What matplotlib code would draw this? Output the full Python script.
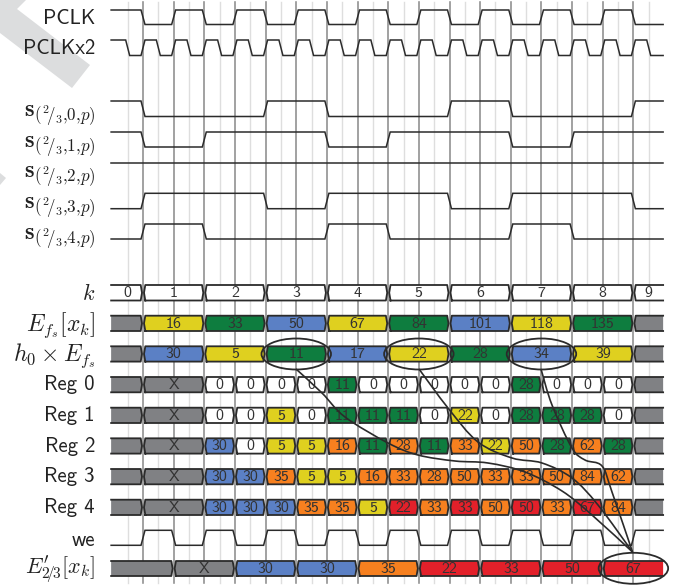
import matplotlib
matplotlib.use("Agg")
import matplotlib.pyplot as plt
from matplotlib.patches import Ellipse, Polygon
from matplotlib.path import Path
from matplotlib.patches import PathPatch

plt.rcParams['mathtext.fontset'] = 'cm'
plt.rcParams['font.family'] = 'cmss10'
plt.rcParams['axes.unicode_minus'] = False

#waveforms: level before the first edge, then times of the edges#
pclk_edges = [0, 1, 2, 3, 4, 5, 6, 7, 8, 9, 10, 11, 12, 13, 14, 15, 16]
pclkx2_edges = [-0.5, 0, 0.5, 1, 1.5, 2, 2.5, 3, 3.5, 4, 4.5, 5, 5.5, 6, 6.5, 7, 7.5, 8,
                8.5, 9, 9.5, 10, 10.5, 11, 11.5, 12, 12.5, 13, 13.5, 14, 14.5, 15, 15.5, 16, 16.5]
s0_edges = [0, 4, 6, 10, 12, 16]
s1_edges = [0, 2, 6, 8, 12, 14]
s2_edges = []
s3_edges = [0, 4, 6, 10, 12, 16]
s4_edges = [0, 2, 6, 8, 12, 14]
we_edges = [0, 1, 2, 3, 4, 5, 6, 7, 8, 9, 10, 11, 12, 13, 14, 15, 16]

#bus rows#
k_values = ["0", "1", "2", "3", "4", "5", "6", "7", "8", "9"]
ef_values = ["16", "33", "50", "67", "84", "101", "118", "135"]
ef_colors = "ygbygbyg"
h0_values = ["30", "5", "11", "17", "22", "28", "34", "39"]
h0_colors = "bygbygby"
reg0_values = ["0", "0", "0", "0", "11", "0", "0", "0", "0", "0", "28", "0", "0", "0"]
reg0_colors = "wwwwgwwwwwgwww"
reg1_values = ["0", "0", "5", "0", "11", "11", "11", "0", "22", "0", "28", "28", "28", "0"]
reg1_colors = "wwywgggwywgggw"
reg2_values = ["30", "0", "5", "5", "16", "11", "28", "11", "33", "22", "50", "28", "62", "28"]
reg2_colors = "bwyyogogoyogog"
reg3_values = ["30", "30", "35", "5", "5", "16", "33", "28", "50", "33", "33", "50", "84", "62"]
reg3_colors = "bboyyooooooooo"
reg4_values = ["30", "30", "30", "35", "35", "5", "22", "33", "33", "50", "50", "33", "67", "84"]
reg4_colors = "bbbooyrorororo"
out_values = ["30", "30", "35", "22", "33", "50", "67"]
out_colors = "bborrrr"

colors = {"y": "#dfd01f", "g": "#0e7d3f", "b": "#5b80c5", "o": "#f7801f",
          "r": "#e3202a", "w": "#ffffff", "k": "#808184"}

LINE = "#2b2b2b"
X0 = 143.0
UNIT = 30.65


def px(x):
    return (x - X0) / UNIT


fig = plt.figure(figsize=(6.9, 5.87), dpi=100)
ax = fig.add_axes([0, 0, 1, 1])
ax.set_xlim(px(0), px(690))
ax.set_ylim(587, 0)
ax.axis("off")

#watermark#
for shape in ([(0, 0), (26, 0), (17, 9), (90, 65), (72, 88), (0, 33)],
              [(0, 173), (6, 178), (0, 185)]):
    ax.add_patch(Polygon([(px(a), b) for a, b in shape], closed=True,
                         facecolor="#dcddde", edgecolor="none", zorder=0))

#grid#
for i in range(17):
    ax.plot([i, i], [2, 583], color="#8c8c8c", lw=1.15, zorder=1)
    ax.plot([i - 0.5, i - 0.5], [2, 583], color="#dedede", lw=1.0, zorder=1)
ax.plot([16.5, 16.5], [2, 583], color="#dedede", lw=1.0, zorder=1)

T_START = -1.04
T_END = 16.97
RAMP = 0.065


def wave(edges, start_high, high, low):
    xs = [T_START]
    level = start_high
    ys = [high if level else low]
    for e in edges:
        xs += [e - RAMP, e + RAMP]
        ys.append(high if level else low)
        level = not level
        ys.append(high if level else low)
    xs.append(T_END)
    ys.append(high if level else low)
    ax.plot(xs, ys, color=LINE, lw=1.1, zorder=3, solid_joinstyle="miter")


wave(pclk_edges, True, 10, 24.5)
wave(pclkx2_edges, True, 40, 55.5)
wave(s0_edges, True, 101, 116.5)
wave(s1_edges, True, 132, 147)
wave(s2_edges, True, 162.7, 178)
wave(s3_edges, False, 193.3, 208.7)
wave(s4_edges, False, 224, 239)
wave(we_edges, False, 530.3, 545.3)

TIP = 1.0 / UNIT
CORNER = 2.3 / UNIT


def cell(t0, t1, top, bot, color, label=None, open_left=False, open_right=False):
    mid = (top + bot) / 2
    if open_left:
        left = [(t0, bot), (t0, top)]
    else:
        left = [(t0 + CORNER, bot), (t0 + TIP, mid), (t0 + CORNER, top)]
    if open_right:
        right = [(t1, top), (t1, bot)]
    else:
        right = [(t1 - CORNER, top), (t1 - TIP, mid), (t1 - CORNER, bot)]
    pts = left + right
    ax.add_patch(Polygon(pts, closed=True, facecolor=colors[color], edgecolor="none", zorder=2))
    # outline stays open where the row runs off the diagram
    if open_left:
        outline = left[1:] + right + left[:1]
    elif open_right:
        outline = right[1:] + left + right[:1]
    else:
        outline = pts + pts[:1]
    ax.plot([p[0] for p in outline], [p[1] for p in outline], color=LINE, lw=1.3, zorder=3,
            solid_joinstyle="round")
    if label is not None:
        ax.text((t0 + t1) / 2, mid + 0.3, label, ha="center", va="center", fontsize=11.5,
                color="#333333", zorder=5)


def reg_row(top, values, cols):
    bot = top + 15.3
    cell(T_START, 0, top, bot, "k", open_left=True)
    cell(0, 2, top, bot, "k", "X")
    for i, v in enumerate(values):
        cell(2 + i, 3 + i, top, bot, cols[i], v)
    cell(16, T_END, top, bot, "k", open_right=True)


#k row#
cell(T_START, 0, 285, 300.5, "w", k_values[0], open_left=True)
for i in range(8):
    cell(2 * i, 2 * i + 2, 285, 300.5, "w", k_values[i + 1])
cell(16, T_END, 285, 300.5, "w", k_values[9], open_right=True)

#E_fs and h0 rows#
for top, vals, cols in ((315.7, ef_values, ef_colors), (346.3, h0_values, h0_colors)):
    cell(T_START, 0, top, top + 15.3, "k", open_left=True)
    for i in range(8):
        cell(2 * i, 2 * i + 2, top, top + 15.3, cols[i], vals[i])
    cell(16, T_END, top, top + 15.3, "k", open_right=True)

reg_row(377, reg0_values, reg0_colors)
reg_row(407.7, reg1_values, reg1_colors)
reg_row(438.3, reg2_values, reg2_colors)
reg_row(469, reg3_values, reg3_colors)
reg_row(499.7, reg4_values, reg4_colors)

#output row#
cell(T_START, 1, 561, 576, "k", open_left=True)
cell(1, 3, 561, 576, "k", "X")
for i in range(6):
    cell(3 + 2 * i, 5 + 2 * i, 561, 576, out_colors[i], out_values[i])
cell(15, T_END, 561, 576, out_colors[6], out_values[6], open_right=True)

#ellipses#
for tc, yc in ((5, 354), (9, 354), (13, 354), (16, 568.3)):
    ax.add_patch(Ellipse((tc, yc), 69.5 / UNIT, 31, facecolor="none", edgecolor=LINE, lw=1.3, zorder=4))

#curves down to the output#
curve1 = [(296, 369), (322, 393), (345, 417), (388, 443), (418, 455), (455, 461), (488, 463),
          (525, 472), (562, 491), (592, 515), (632.5, 552)]
curve2 = [(419, 369), (448, 408), (478, 442), (512, 458), (542, 463), (572, 478), (598, 505), (632.5, 552)]
curve3 = [(541, 369), (552, 405), (572, 448), (585, 460), (602, 466), (612, 492), (632.5, 552)]


def smooth(points):
    pts = [(px(a), b) for a, b in points]
    verts = [pts[0]]
    codes = [Path.MOVETO]
    for i in range(len(pts) - 1):
        p0 = pts[max(i - 1, 0)]
        p1 = pts[i]
        p2 = pts[i + 1]
        p3 = pts[min(i + 2, len(pts) - 1)]
        c1 = (p1[0] + (p2[0] - p0[0]) / 6, p1[1] + (p2[1] - p0[1]) / 6)
        c2 = (p2[0] - (p3[0] - p1[0]) / 6, p2[1] - (p3[1] - p1[1]) / 6)
        verts += [c1, c2, p2]
        codes += [Path.CURVE4, Path.CURVE4, Path.CURVE4]
    return Path(verts, codes)


for c in (curve1, curve2, curve3):
    ax.add_patch(PathPatch(smooth(c), facecolor="none", edgecolor=LINE, lw=1.2, zorder=6))

#row labels#
LABEL_T = px(95)
sans_labels = [("PCLK", 18), ("PCLKx2", 49), ("Reg 0", 385), ("Reg 1", 415.5), ("Reg 2", 446),
               ("Reg 3", 477), ("Reg 4", 507.5), ("we", 540)]
for text, y in sans_labels:
    ax.text(LABEL_T, y, text, ha="right", va="center", fontsize=15, color="#222222", zorder=5)

math_labels = [(r"$\mathbf{s}_{(^{2}\!/_{3}{,}0{,}p)}$", 116),
               (r"$\mathbf{s}_{(^{2}\!/_{3}{,}1{,}p)}$", 147),
               (r"$\mathbf{s}_{(^{2}\!/_{3}{,}2{,}p)}$", 177),
               (r"$\mathbf{s}_{(^{2}\!/_{3}{,}3{,}p)}$", 208),
               (r"$\mathbf{s}_{(^{2}\!/_{3}{,}4{,}p)}$", 239)]
for text, y in math_labels:
    ax.text(LABEL_T, y, text, ha="right", va="center", fontsize=17.5, color="#222222", zorder=5)

ax.text(LABEL_T, 293, r"$k$", ha="right", va="center", fontsize=16, color="#222222", zorder=5)
ax.text(LABEL_T, 325, r"$E_{f_s}[x_k]$", ha="right", va="center", fontsize=17, color="#222222", zorder=5)
ax.text(LABEL_T, 356, r"$h_0 \times E_{f_s}$", ha="right", va="center", fontsize=17, color="#222222", zorder=5)
ax.text(LABEL_T, 569, r"$E^{\prime}_{2\!/\!3}[x_k]$", ha="right", va="center", fontsize=16, color="#222222", zorder=5)

fig.savefig("out.png", dpi=100)
